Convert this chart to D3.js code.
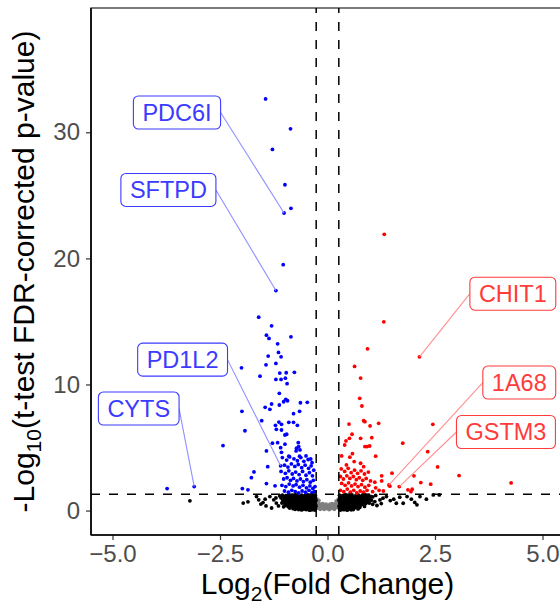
<!DOCTYPE html>
<html>
<head>
<meta charset="utf-8">
<script src="https://cdn.jsdelivr.net/npm/d3@7"></script>
<style>
  body { margin: 0; background: #fff; }
  text { font-family: "Liberation Sans", Arial, sans-serif; }
</style>
</head>
<body>
<script>
// log2 fold change / -log10 FDR p
const downGenes = [
  [-1.44,32.65],[-0.86,30.28],[-1.28,28.64],[-0.99,25.84],[-0.85,23.97],[-1.01,23.6],[-1.03,19.5],[-1.20,17.45],
  [-1.60,15.34],[-1.30,14.65],[-1.42,13.91],[-1.36,13.65],[-0.85,13.78],[-1.16,13.22],[-1.14,12.54],[-1.08,12.19],
  [-1.38,12.25],[-1.20,11.67],[-1.43,11.56],[-2.00,11.32],[-1.11,10.9],[-0.96,10.93],[-0.77,10.96],[-1.57,10.66],
  [-1.20,10.4],[-1.08,10.4],[-0.98,10.5],[-0.94,10.06],[-1.12,9.3],[-0.97,8.82],[-0.93,8.71],[-1.02,8.63],
  [-0.63,8.55],[-0.47,8.58],[-1.45,8.19],[-1.30,8.45],[-1.34,8.03],[-1.12,8.37],[-1.99,7.87],[-0.65,7.87],
  [-0.79,7.68],[-1.53,7.13],[-1.13,7.02],[-0.90,7.0],[-0.79,7.0],[-1.21,6.76],[-1.07,6.84],[-1.19,6.44],
  [-0.70,6.76],[-1.92,6.33],[-1.07,6.39],[-0.95,6.05],[-0.99,5.99],[-2.43,5.15],[-1.28,5.34],[-1.16,5.38],
  [-0.99,5.26],[-0.68,5.38],[-1.42,4.73],[-0.72,4.94],[-0.67,5.07],[-0.73,4.73],[-0.64,4.81],[-1.09,4.99],
  [-1.07,4.62],[-0.50,4.33],[-0.65,4.31],[-0.39,4.09],[-0.90,4.31],[-1.39,3.48],[-1.71,3.06],[-1.77,2.61],
  [-1.98,1.74],[-1.85,1.64],[-1.42,2.14],[-1.22,1.96],[-3.10,1.90],[-3.73,1.74],[-1.09,3.55],
  [-1.05,4.2],[-0.95,4.0],[-0.88,4.25],[-0.78,4.1],[-0.7,3.95],[-0.62,4.2],[-0.55,3.9],[-0.45,4.05],[-0.36,3.8],
  [-1.0,3.6],[-0.92,3.45],[-0.84,3.7],[-0.76,3.5],[-0.68,3.65],[-0.6,3.4],[-0.52,3.6],[-0.44,3.35],[-0.38,3.55],[-0.32,3.2],
  [-1.08,3.1],[-0.98,2.95],[-0.9,3.15],[-0.82,2.9],[-0.74,3.05],[-0.66,2.85],[-0.58,3.1],[-0.5,2.8],[-0.42,3.0],[-0.35,2.75],
  [-1.02,2.5],[-0.94,2.6],[-0.86,2.4],[-0.79,2.55],[-0.71,2.35],[-0.63,2.5],[-0.56,2.3],[-0.48,2.45],[-0.4,2.25],[-0.33,2.4],
  [-1.06,2.0],[-0.97,1.9],[-0.89,2.1],[-0.8,1.95],[-0.73,2.05],[-0.65,1.85],[-0.57,2.0],[-0.49,1.8],[-0.41,1.95],[-0.34,1.75],[-0.29,1.9],
  [-1.0,1.55],[-0.91,1.45],[-0.83,1.6],[-0.75,1.5],[-0.67,1.4],[-0.59,1.55],[-0.51,1.45],[-0.43,1.6],[-0.36,1.42],[-0.3,1.5]
];

const upGenes = [
  [1.32,21.91],[1.31,14.97],[0.93,12.83],[2.14,12.19],[0.63,11.43],[0.77,10.51],[0.75,8.9],[0.80,8.29],
  [0.84,7.13],[0.87,7.05],[0.99,6.71],[1.19,6.92],[0.50,6.86],[2.45,6.84],[0.57,6.05],[0.51,5.73],
  [0.43,5.52],[0.40,5.2],[0.77,5.73],[1.03,5.78],[1.75,5.34],[0.87,5.07],[0.92,5.07],[0.98,5.12],
  [0.58,4.51],[0.33,4.33],[0.52,4.23],[1.12,4.31],[2.33,4.67],[0.62,3.88],[0.77,3.75],[0.84,3.48],
  [0.44,3.62],[2.56,3.46],[3.06,2.77],[1.26,2.75],[1.26,2.35],[1.50,2.96],[1.43,2.03],[1.45,1.93],
  [1.67,1.9],[2.01,2.75],[2.17,2.22],[2.40,2.09],[1.87,1.64],[1.97,1.69],[1.94,1.5],[4.27,2.19],
  [0.32,3.3],[0.4,3.1],[0.48,3.35],[0.55,3.0],[0.63,3.2],[0.7,2.95],[0.78,3.15],[0.86,2.9],[0.95,3.05],
  [0.3,2.7],[0.37,2.5],[0.45,2.75],[0.52,2.55],[0.6,2.7],[0.67,2.45],[0.74,2.6],[0.82,2.4],[0.9,2.55],[1.0,2.35],
  [0.33,2.15],[0.41,2.0],[0.49,2.2],[0.56,1.95],[0.64,2.1],[0.71,1.9],[0.79,2.05],[0.87,1.85],[0.96,2.0],
  [0.3,1.6],[0.38,1.5],[0.46,1.7],[0.53,1.45],[0.61,1.6],[0.68,1.4],[0.76,1.55],[0.84,1.45],[0.92,1.6],[1.05,1.5],
  [1.12,1.8],[1.2,1.6],[1.1,2.25],[1.3,1.55]
];

// not significant, outside the fold change cut
const nsGenes = [
  [-3.2,0.77],[-1.96,0.59],[-1.85,0.69],[-1.65,1.11],[-1.6,0.85],[-1.55,0.51],[-1.5,0.63],[-1.43,0.37],
  [-1.34,1.11],[-1.25,0.85],[-1.19,0.59],[-1.14,0.37],[-1.11,1.16],[-1.3,0.2],[-1.2,1.0],[-1.45,0.9],
  [-1.05,1.22],[-0.97,1.18],[-0.9,1.25],[-0.82,1.2],[-0.75,1.24],[-0.68,1.15],[-0.6,1.22],[-0.53,1.19],[-0.46,1.25],[-0.39,1.2],[-0.33,1.23],[-0.28,1.17],
  [-1.01,1.1],[-0.93,1.13],[-0.86,1.08],[-0.8,1.14],[-0.71,1.07],[-0.64,1.12],[-0.56,1.09],[-0.49,1.14],[-0.42,1.08],[-0.35,1.13],[-0.3,1.1],
  [-1.08,1.0],[-1.0,0.95],[-0.93,1.05],[-0.86,0.98],[-0.79,1.02],[-0.72,0.94],[-0.65,1.04],[-0.57,0.97],[-0.5,1.03],[-0.43,0.96],[-0.36,1.05],[-0.3,0.99],
  [-1.04,0.88],[-0.97,0.9],[-0.89,0.86],[-0.83,0.91],[-0.76,0.87],[-0.68,0.93],[-0.62,0.88],[-0.54,0.86],[-0.47,0.92],[-0.33,0.9],[-0.28,0.87],
  [-1.03,0.78],[-0.95,0.82],[-0.88,0.75],[-0.81,0.8],[-0.74,0.77],[-0.66,0.84],[-0.59,0.76],[-0.52,0.81],[-0.45,0.78],[-0.38,0.83],[-0.32,0.76],[-0.27,0.8],
  [-1.0,0.68],[-0.93,0.7],[-0.86,0.66],[-0.79,0.72],[-0.72,0.65],[-0.64,0.71],[-0.57,0.67],[-0.5,0.72],[-0.43,0.68],[-0.37,0.73],[-0.3,0.66],
  [-1.06,0.6],[-0.98,0.55],[-0.91,0.62],[-0.84,0.57],[-0.76,0.63],[-0.69,0.56],[-0.62,0.61],[-0.55,0.58],[-0.48,0.64],[-0.41,0.57],[-0.35,0.62],[-0.29,0.58],
  [-0.95,0.48],[-0.88,0.51],[-0.81,0.47],[-0.74,0.52],[-0.66,0.46],[-0.59,0.53],[-0.52,0.49],[-0.45,0.52],[-0.4,0.47],[-0.34,0.53],[-0.28,0.48],
  [-0.99,0.4],[-0.92,0.35],[-0.85,0.42],[-0.78,0.38],[-0.7,0.43],[-0.63,0.36],[-0.56,0.41],[-0.49,0.37],[-0.42,0.44],[-0.36,0.39],[-0.3,0.42],[-0.27,0.35],
  [-0.9,0.28],[-0.83,0.31],[-0.76,0.27],[-0.68,0.32],[-0.6,0.28],[-0.53,0.3],[-0.46,0.27],[-0.4,0.33],[-0.34,0.29],[-0.29,0.25],
  [-0.88,0.2],[-0.8,0.15],[-0.72,0.22],[-0.64,0.17],[-0.57,0.23],[-0.5,0.16],[-0.44,0.21],[-0.38,0.14],[-0.32,0.2],[-0.28,0.12],
  [-0.75,0.1],[-0.67,0.08],[-0.55,0.12],[-0.47,0.1],[-0.39,0.06],[-0.32,0.1],
  [-0.6,0.05],[-0.5,0.08],[-0.42,0.03],[-0.35,0.07],[-0.29,0.04],
  [-0.47,1.1],[-0.4,0.88],[-0.34,0.7],[-0.31,0.5],[-0.38,0.28],[-0.55,0.9],[-0.61,0.48],[-0.7,0.7],[-0.77,1.1],[-0.86,0.5],[-0.94,0.9],[-1.02,0.3],
  [0.28,1.22],[0.35,1.18],[0.42,1.25],[0.5,1.2],[0.57,1.24],[0.65,1.16],[0.72,1.22],[0.8,1.19],[0.88,1.25],[0.95,1.2],
  [0.31,1.1],[0.38,1.13],[0.46,1.08],[0.53,1.14],[0.61,1.07],[0.68,1.12],[0.76,1.09],[0.84,1.14],[0.92,1.08],[1.0,1.12],
  [0.3,1.0],[0.37,0.95],[0.44,1.05],[0.52,0.98],[0.59,1.02],[0.67,0.94],[0.74,1.04],[0.82,0.97],[0.9,1.03],[0.98,0.96],[1.05,1.08],
  [0.28,0.9],[0.35,0.87],[0.42,0.92],[0.49,0.88],[0.57,0.91],[0.64,0.86],[0.72,0.93],[0.8,0.88],[0.88,0.92],[0.96,0.86],
  [0.27,0.8],[0.33,0.76],[0.4,0.83],[0.47,0.78],[0.55,0.81],[0.62,0.77],[0.7,0.84],[0.77,0.76],[0.85,0.8],[0.93,0.75],[1.02,0.82],
  [0.3,0.68],[0.38,0.71],[0.45,0.66],[0.53,0.72],[0.6,0.67],[0.68,0.7],[0.76,0.65],[0.84,0.71],[0.93,0.67],
  [0.29,0.58],[0.36,0.62],[0.43,0.57],[0.5,0.63],[0.58,0.56],[0.65,0.61],[0.73,0.58],[0.81,0.64],[0.89,0.55],[0.97,0.6],
  [0.3,0.48],[0.37,0.51],[0.44,0.47],[0.52,0.52],[0.59,0.46],[0.67,0.5],[0.74,0.48],[0.82,0.52],
  [0.27,0.35],[0.32,0.42],[0.39,0.37],[0.46,0.43],[0.54,0.38],[0.61,0.41],[0.69,0.36],[0.77,0.42],[0.86,0.33],
  [0.31,0.27],[0.37,0.3],[0.44,0.26],[0.52,0.31],[0.59,0.28],[0.66,0.3],[0.75,0.25],
  [0.28,0.14],[0.34,0.2],[0.41,0.16],[0.48,0.22],[0.56,0.17],[0.63,0.21],[0.71,0.13],
  [0.34,0.1],[0.42,0.09],[0.5,0.12],[0.6,0.08],
  [0.3,0.04],[0.38,0.07],[0.46,0.03],[0.55,0.06],
  [1.1,0.71],[1.22,0.84],[1.29,0.98],[1.37,1.11],[1.46,0.79],[1.54,0.9],[1.6,0.58],[1.68,1.06],[1.76,0.58],
  [1.85,1.11],[1.95,0.9],[2.03,0.64],[2.08,0.45],[2.15,1.11],[2.3,0.9],[2.46,1.24],[2.6,1.24],
  [1.15,0.4],[1.25,0.55],[1.05,0.5],[1.12,1.2]
];

// inside the fold change cut
const smallFcGenes = [
  [-0.25,0.95],[-0.24,0.75],[-0.23,0.6],[-0.25,0.45],[-0.22,0.4],[-0.2,0.55],[-0.19,0.3],[-0.17,0.45],
  [-0.15,0.25],[-0.14,0.5],[-0.12,0.35],[-0.1,0.2],[-0.09,0.45],[-0.07,0.3],[-0.05,0.15],[-0.04,0.4],
  [-0.02,0.25],[0,0.35],[0.01,0.15],[0.03,0.4],[0.05,0.25],[0.07,0.15],[0.08,0.42],[0.1,0.3],
  [0.12,0.2],[0.13,0.48],[0.15,0.35],[0.17,0.22],[0.18,0.5],[0.2,0.35],[0.21,0.6],[0.23,0.45],
  [0.24,0.75],[0.25,0.9],[0.22,0.25],[-0.22,0.2],[-0.17,0.1],[-0.08,0.1],[0.04,0.08],[0.16,0.1],
  [0.25,0.6],[-0.25,0.65],[-0.2,0.8],[0.2,0.75],[-0.11,0.55],[0.11,0.55],[-0.03,0.5],[0.06,0.5]
];

const labelGenes = ['PDC6I', 'SFTPD', 'PD1L2', 'CYTS', 'CHIT1', '1A68', 'GSTM3'];
const labelFC = [-1.01, -1.20, -1.09, -3.10, 2.14, 1.43, 1.67];
const labelP = [23.6, 17.45, 3.55, 1.90, 12.19, 2.03, 1.9];

const xTicks = [-5, -2.5, 0, 2.5, 5];
const yTicks = [0, 10, 20, 30];

const fcCut = Math.log2(1.2);
const pCut = -Math.log10(0.05);

// where the repelled boxes ended up (data units)
const boxAt = [[-3.50, 31.57], [-3.70, 25.43], [-3.37, 11.97], [-4.39, 8.09], [4.31, 17.2], [4.46, 10.15], [4.15, 6.23]];

const width = 560, height = 606;
const panel = { left: 91, top: 8, bottom: 535, right: 564 };

const svg = d3.select('body').append('svg')
  .attr('width', width)
  .attr('height', height);

const x = d3.scaleLinear().domain([-5.5, 5.5]).range([panel.left, panel.right]);
const y = d3.scaleLinear().domain([-1.94, 39.86]).range([panel.bottom, panel.top]);

const blue = '#0000ff', red = '#ff0000';

// panel border
svg.append('rect')
  .attr('x', panel.left).attr('y', panel.top)
  .attr('width', panel.right - panel.left).attr('height', panel.bottom - panel.top)
  .attr('fill', 'none').attr('stroke', '#444').attr('stroke-width', 1.4);

// points
const drawPoints = (rows, color) => {
  svg.append('g').selectAll('circle')
    .data(rows)
    .join('circle')
    .attr('cx', d => x(d[0]))
    .attr('cy', d => y(d[1]))
    .attr('r', 1.9)
    .attr('fill', color);
};
drawPoints(smallFcGenes, '#7f7f7f');
drawPoints(nsGenes, '#000');
drawPoints(downGenes, blue);
drawPoints(upGenes, red);

// threshold lines
const dashed = g => g.attr('stroke', '#000').attr('stroke-width', 1.5).attr('stroke-dasharray', '9,9');
[-fcCut, fcCut].forEach(v => {
  svg.append('line')
    .attr('x1', x(v)).attr('x2', x(v))
    .attr('y1', panel.bottom).attr('y2', panel.top)
    .call(dashed);
});
svg.append('line')
  .attr('x1', panel.left).attr('x2', panel.right)
  .attr('y1', y(pCut)).attr('y2', y(pCut))
  .call(dashed);

// labels
const labelSize = 23.5;
labelGenes.forEach((gene, i) => {
  const isUp = labelFC[i] > 0;
  const col = isUp ? '#ff3b3b' : '#3b3bff';
  const segCol = isUp ? '#ff9090' : '#9090ff';
  const cx = x(boxAt[i][0]), cy = y(boxAt[i][1]);
  const g = svg.append('g');
  const seg = g.append('line').attr('stroke', segCol).attr('stroke-width', 1.1);
  const rect = g.append('rect');
  const t = g.append('text')
    .attr('x', cx).attr('y', cy + labelSize * 0.36)
    .attr('text-anchor', 'middle')
    .attr('font-size', labelSize)
    .attr('fill', col)
    .text(gene);
  const w = t.node().getComputedTextLength() + 18;
  const h = 33;
  rect.attr('x', cx - w / 2).attr('y', cy - h / 2)
    .attr('width', w).attr('height', h)
    .attr('rx', 5).attr('ry', 5)
    .attr('fill', '#fff').attr('stroke', col).attr('stroke-width', 1.1);
  const px = x(labelFC[i]), py = y(labelP[i]);
  seg.attr('x1', px < cx ? cx - w / 2 : cx + w / 2).attr('y1', cy)
    .attr('x2', px).attr('y2', py);
});

// axes
const xAxis = d3.axisBottom(x).tickValues(xTicks).tickFormat(d3.format('.1f')).tickSize(5).tickPadding(5);
const yAxis = d3.axisLeft(y).tickValues(yTicks).tickFormat(d3.format('d')).tickSize(5).tickPadding(6);

const gx = svg.append('g').attr('transform', `translate(0,${panel.bottom})`).call(xAxis);
const gy = svg.append('g').attr('transform', `translate(${panel.left},0)`).call(yAxis);
[gx, gy].forEach(g => {
  g.select('.domain').remove();
  g.selectAll('.tick line').attr('stroke', '#333').attr('stroke-width', 1.2);
  g.selectAll('.tick text')
    .attr('fill', '#4d4d4d')
    .attr('font-size', 24)
    .style('font-family', '"Liberation Sans", Arial, sans-serif');
});

svg.append('line')
  .attr('x1', panel.left).attr('x2', panel.left)
  .attr('y1', panel.top).attr('y2', panel.bottom)
  .attr('stroke', '#000').attr('stroke-width', 1.6);
svg.append('line')
  .attr('x1', panel.left).attr('x2', panel.right)
  .attr('y1', panel.bottom).attr('y2', panel.bottom)
  .attr('stroke', '#000').attr('stroke-width', 1.6);

// axis titles
const titleSize = 30, subSize = 21;
const xt = svg.append('text')
  .attr('x', x(0)).attr('y', 594)
  .attr('text-anchor', 'middle')
  .attr('font-size', titleSize);
xt.append('tspan').text('Log');
xt.append('tspan').attr('font-size', subSize).attr('dy', 7).text('2');
xt.append('tspan').attr('dy', -7).text('(Fold Change)');

const yt = svg.append('text')
  .attr('transform', `translate(34,${(panel.top + panel.bottom) / 2}) rotate(-90)`)
  .attr('text-anchor', 'middle')
  .attr('font-size', titleSize);
yt.append('tspan').text('-Log');
yt.append('tspan').attr('font-size', subSize).attr('dy', 7).text('10');
yt.append('tspan').attr('dy', -7).text('(t-test FDR-corrected p-value)');
</script>
</body>
</html>
